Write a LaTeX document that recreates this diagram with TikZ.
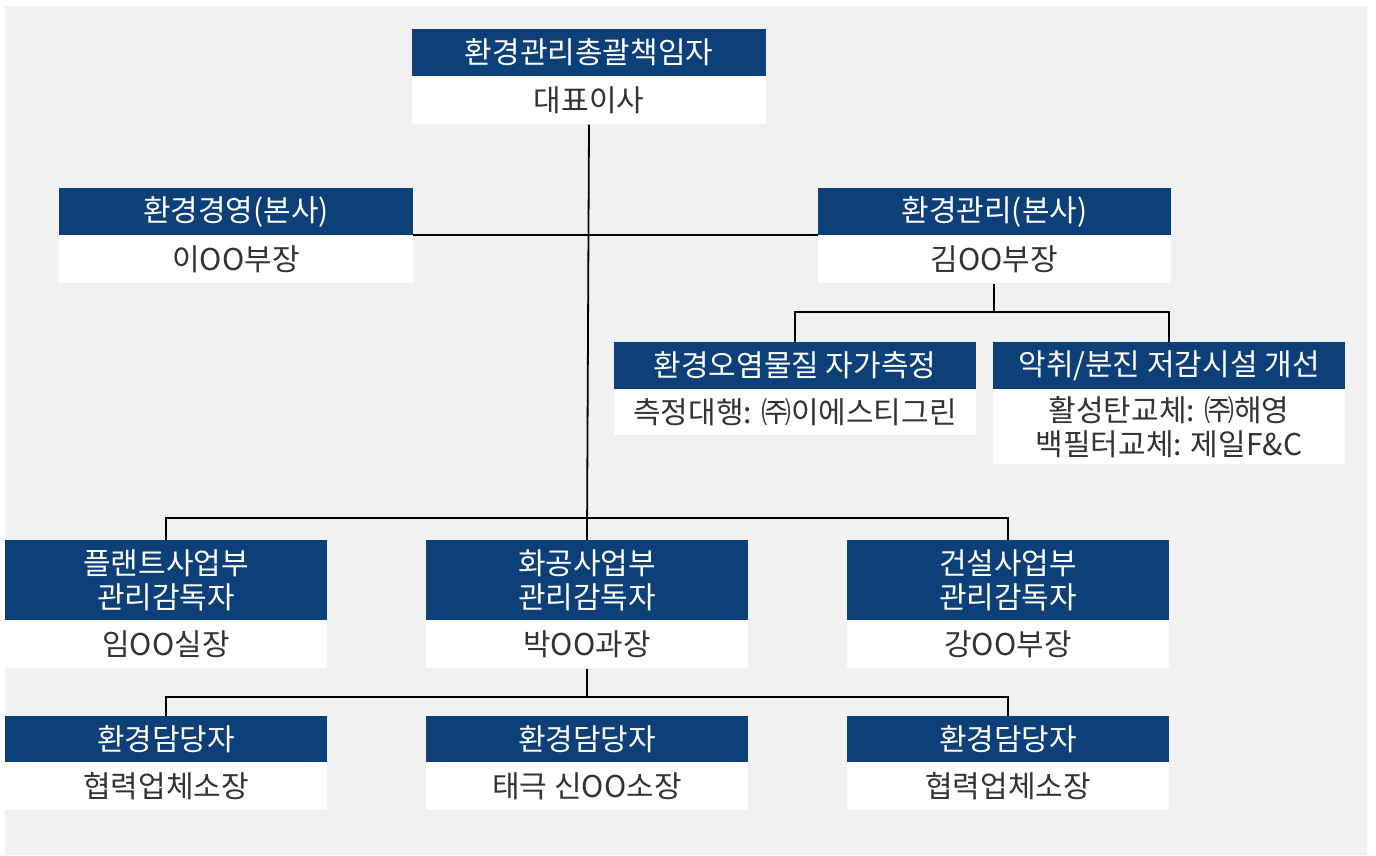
\documentclass[tikz,border=0pt]{standalone}
\usepackage{fontspec}
\setmainfont{Noto Sans CJK KR}
\usetikzlibrary{positioning}

\definecolor{hdblue}{HTML}{0D4079}
\definecolor{bggray}{HTML}{F1F1F1}
\definecolor{bodytext}{HTML}{333333}

\tikzset{
  head/.style={fill=hdblue, text=white, inner sep=0pt, align=center,
    font=\fontsize{30}{34}\selectfont},
  body/.style={fill=white, text=bodytext, inner sep=0pt, align=center,
    font=\fontsize{30}{34}\selectfont},
  link/.style={draw=black, line width=1.8pt}
}

\begin{document}
\begin{tikzpicture}[x=1pt, y=-1pt]
\useasboundingbox[fill=white] (0,0) rectangle (1376,855);
\fill[bggray] (5,6) rectangle (1367,855);

% top
\node[head, minimum width=354pt, minimum height=47pt] (ceoH) at (589,52.5) {환경관리총괄책임자};
\node[body, below=0pt of ceoH, minimum width=354pt, minimum height=48pt] (ceoB) {대표이사};

% second level
\node[head, minimum width=354pt, minimum height=47pt] (mgmtH) at (236,211.5) {환경경영(본사)};
\node[body, below=0pt of mgmtH, minimum width=354pt, minimum height=48pt] (mgmtB) {이OO부장};
\node[head, minimum width=353pt, minimum height=47pt] (envH) at (994.5,211.5) {환경관리(본사)};
\node[body, below=0pt of envH, minimum width=353pt, minimum height=48pt] (envB) {김OO부장};

% under envB
\node[head, minimum width=362pt, minimum height=47pt] (measH) at (795,365.5) {환경오염물질 자가측정};
\node[body, below=0pt of measH, minimum width=362pt, minimum height=46pt] (measB) {측정대행: ㈜이에스티그린};
\node[head, minimum width=352pt, minimum height=47pt] (odorH) at (1169,365.5) {악취/분진 저감시설 개선};
\node[body, below=0pt of odorH, minimum width=352pt, minimum height=75pt] (odorB) {활성탄교체: ㈜해영\\백필터교체: 제일F\&C};

% divisions
\node[head, minimum width=322pt, minimum height=80pt] (plantH) at (166,580) {플랜트사업부\\관리감독자};
\node[body, below=0pt of plantH, minimum width=322pt, minimum height=48pt] (plantB) {임OO실장};
\node[head, minimum width=322pt, minimum height=80pt] (chemH) at (587,580) {화공사업부\\관리감독자};
\node[body, below=0pt of chemH, minimum width=322pt, minimum height=48pt] (chemB) {박OO과장};
\node[head, minimum width=322pt, minimum height=80pt] (buildH) at (1008,580) {건설사업부\\관리감독자};
\node[body, below=0pt of buildH, minimum width=322pt, minimum height=48pt] (buildB) {강OO부장};

% staff
\node[head, minimum width=322pt, minimum height=46pt] (staffaH) at (166,739) {환경담당자};
\node[body, below=0pt of staffaH, minimum width=322pt, minimum height=48pt] (staffaB) {협력업체소장};
\node[head, minimum width=322pt, minimum height=46pt] (staffbH) at (587,739) {환경담당자};
\node[body, below=0pt of staffbH, minimum width=322pt, minimum height=48pt] (staffbB) {태극 신OO소장};
\node[head, minimum width=322pt, minimum height=46pt] (staffcH) at (1008,739) {환경담당자};
\node[body, below=0pt of staffcH, minimum width=322pt, minimum height=48pt] (staffcB) {협력업체소장};

\coordinate (busEnv) at (994,312);
\coordinate (busDiv) at (587,518);
\coordinate (busStaff) at (587,697);

\draw[link] (ceoB.south) -- (chemH.north);
\draw[link] (mgmtH.south east) -- (envH.south west);
\draw[link] (envB.south -| busEnv) -- (busEnv);
\draw[link] (measH.north) -- (measH.north |- busEnv) -- (odorH.north |- busEnv) -- (odorH.north);
\draw[link] (plantH.north) -- (plantH.north |- busDiv) -- (buildH.north |- busDiv) -- (buildH.north);
\draw[link] (chemB.south) -- (busStaff);
\draw[link] (staffaH.north) -- (staffaH.north |- busStaff) -- (staffcH.north |- busStaff) -- (staffcH.north);
\end{tikzpicture}
\end{document}
